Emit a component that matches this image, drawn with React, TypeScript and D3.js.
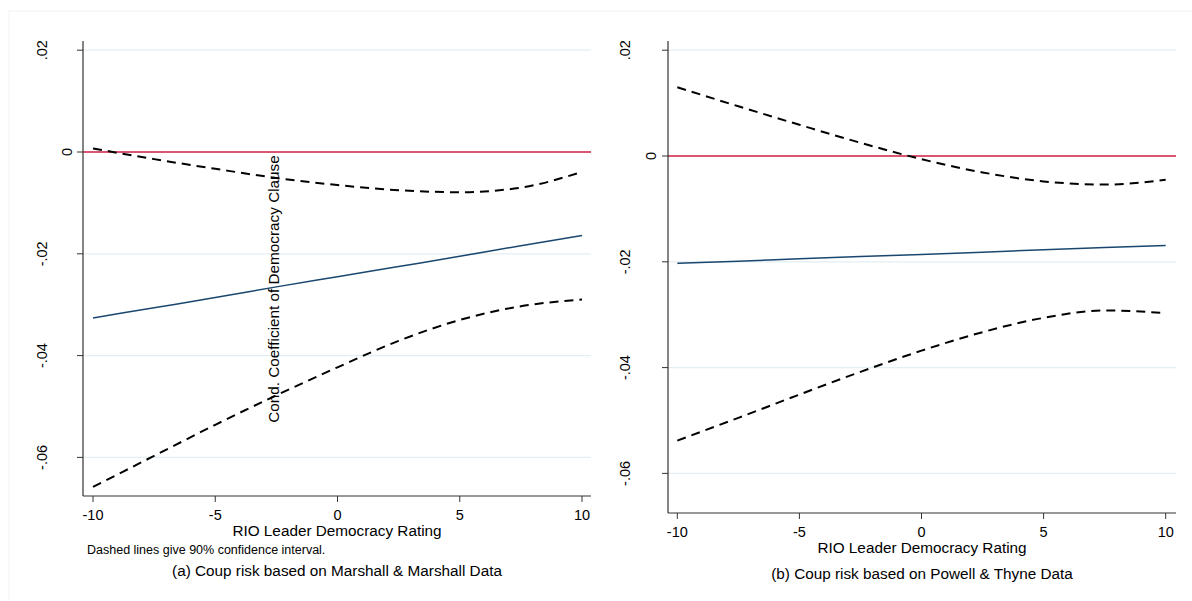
import React from "react";
import * as d3 from "d3";

// ---------- data ----------
const xGrid = [-10, -7.5, -5, -2.5, 0, 2.5, 5, 7.5, 10];

const aEstimate = [-0.0326, -0.0306, -0.0286, -0.0265, -0.0245, -0.0225, -0.0205, -0.0184, -0.0164];
const aUpper = [0.0007, -0.0014, -0.0033, -0.0051, -0.0065, -0.0075, -0.0079, -0.007, -0.0039];
const aLower = [-0.0658, -0.0597, -0.0536, -0.0478, -0.0423, -0.0371, -0.033, -0.0303, -0.029];

const bEstimate = [-0.0203, -0.0199, -0.0194, -0.019, -0.0186, -0.0182, -0.0177, -0.0173, -0.0169];
const bUpper = [0.013, 0.0094, 0.0059, 0.0025, -0.0006, -0.0031, -0.0048, -0.0054, -0.0045];
const bLower = [-0.0538, -0.0495, -0.0451, -0.0408, -0.0368, -0.0333, -0.0306, -0.0292, -0.0297];

const xTicks = [-10, -5, 0, 5, 10];
const yTicks = [0.02, 0, -0.02, -0.04, -0.06];
const yTickLabels = [".02", "0", "-.02", "-.04", "-.06"];
const refLine = 0;

const xTitle = "RIO Leader Democracy Rating";
const yTitle = "Cond. Coefficient of Democracy Clause";
const noteText = "Dashed lines give 90% confidence interval.";
const captionA = "(a) Coup risk based on Marshall & Marshall Data";
const captionB = "(b) Coup risk based on Powell & Thyne Data";

const FONT = "'Liberation Sans', Arial, Helvetica, sans-serif";

type PanelProps = {
  left: number; right: number; top: number; bottom: number;
  xFirst: number; xLast: number; yZero: number; yStep: number;
  est: number[]; up: number[]; lo: number[];
  tickLabelY: number; titleY: number; captionY: number; caption: string;
  yLabelX: number; zeroLabelX: number;
};

function Panel(p: PanelProps) {
  const x = d3.scaleLinear().domain([-10, 10]).range([p.xFirst, p.xLast]);
  const y = d3.scaleLinear().domain([0, 0.02]).range([p.yZero, p.yZero - p.yStep]);
  const pts = (vals: number[]) => xGrid.map((xv, i) => [xv, vals[i]] as [number, number]);
  const line = d3.line<[number, number]>().x(d => x(d[0])).y(d => y(d[1])).curve(d3.curveMonotoneX);
  const cx = (p.left + p.right) / 2;
  return (
    <g>
      {yTicks.filter(t => t !== refLine).map(t => (
        <line key={"g" + t} x1={p.left} x2={p.right} y1={y(t)} y2={y(t)} stroke="#e4edf1" strokeWidth={1.2} />
      ))}
      <line x1={p.left} x2={p.right} y1={y(refLine)} y2={y(refLine)} stroke="#cf1c44" strokeWidth={1.5} />
      <path d={line(pts(p.est)) || ""} fill="none" stroke="#1a476f" strokeWidth={1.5} />
      <path d={line(pts(p.up)) || ""} fill="none" stroke="#000" strokeWidth={2} strokeDasharray="9,6" />
      <path d={line(pts(p.lo)) || ""} fill="none" stroke="#000" strokeWidth={2} strokeDasharray="9,6" />
      {/* axes */}
      <line x1={p.left} x2={p.left} y1={p.top} y2={p.bottom} stroke="#333" strokeWidth={1.2} />
      <line x1={p.left} x2={p.right} y1={p.bottom} y2={p.bottom} stroke="#333" strokeWidth={1.2} />
      {yTicks.map((t, i) => (
        <g key={"y" + t}>
          <line x1={p.left - 6} x2={p.left} y1={y(t)} y2={y(t)} stroke="#333" strokeWidth={1} />
          <text
            transform={`translate(${t === 0 ? p.zeroLabelX : p.yLabelX},${y(t)}) rotate(-90)`}
            textAnchor="middle" fontFamily={FONT} fontSize={14.5} fill="#000"
          >{yTickLabels[i]}</text>
        </g>
      ))}
      {xTicks.map(t => (
        <g key={"x" + t}>
          <line x1={x(t)} x2={x(t)} y1={p.bottom} y2={p.bottom + 6} stroke="#333" strokeWidth={1} />
          <text x={x(t)} y={p.tickLabelY} textAnchor="middle" fontFamily={FONT} fontSize={14.5} fill="#000">{t}</text>
        </g>
      ))}
      <text x={cx} y={p.titleY} textAnchor="middle" fontFamily={FONT} fontSize={15.3} fill="#000">{xTitle}</text>
      <text x={cx} y={p.captionY} textAnchor="middle" fontFamily={FONT} fontSize={15.3} fill="#000">{p.caption}</text>
    </g>
  );
}

export default function App() {
  return (
    <svg width={1192} height={601} style={{ position: "absolute", left: 0, top: 0, background: "#fff" }}>
      <rect x={0} y={0} width={1192} height={601} fill="#fff" />
      <line x1={9} x2={1192} y1={11} y2={11} stroke="#eef2f4" strokeWidth={1} />
      <line x1={9} x2={9} y1={11} y2={601} stroke="#eef2f4" strokeWidth={1} />
      <Panel
        left={83} right={591} top={41} bottom={496}
        xFirst={93} xLast={582} yZero={152} yStep={101.8}
        est={aEstimate} up={aUpper} lo={aLower}
        tickLabelY={520} titleY={535.5} captionY={576} caption={captionA}
        yLabelX={47} zeroLabelX={72}
      />
      <text x={87} y={554} fontFamily={FONT} fontSize={12.5} fill="#000">{noteText}</text>
      <text transform="translate(279,289) rotate(-90)" textAnchor="middle" fontFamily={FONT} fontSize={15.3} fill="#000">{yTitle}</text>
      <Panel
        left={668} right={1176} top={41} bottom={513}
        xFirst={677.3} xLast={1165.7} yZero={156} yStep={105.8}
        est={bEstimate} up={bUpper} lo={bLower}
        tickLabelY={537} titleY={553} captionY={579} caption={captionB}
        yLabelX={630} zeroLabelX={656}
      />
    </svg>
  );
}
